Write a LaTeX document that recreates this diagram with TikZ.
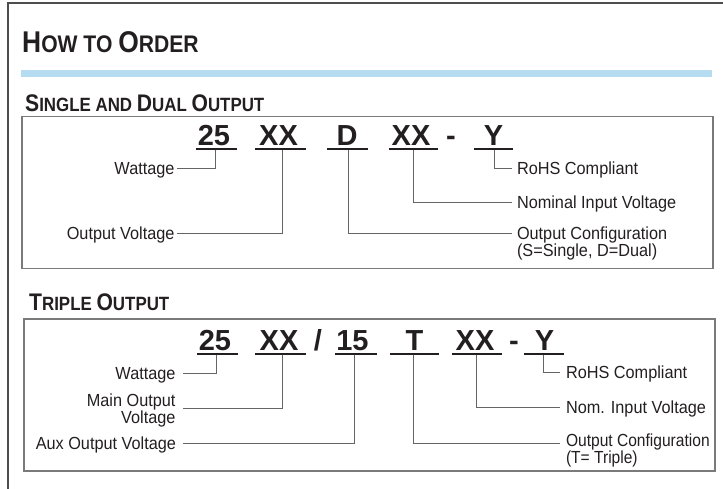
\documentclass[tikz,border=0pt]{standalone}
\usepackage{fontspec}
\setmainfont{Liberation Sans}
\newfontfamily\headfont[FakeStretch=0.88]{Liberation Sans}
\newfontfamily\labfont[FakeStretch=0.93]{Liberation Sans}
\newfontfamily\labnarrow[FakeStretch=0.89]{Liberation Sans}
\definecolor{ink}{HTML}{231F20}
\definecolor{linegray}{HTML}{646567}
\definecolor{boxgray}{HTML}{7A7A7A}
\definecolor{framegray}{HTML}{4D4D4D}
\definecolor{barblue}{HTML}{B5DCF0}
\newcommand\mainH[2]{{\fontsize{30}{30}\selectfont #1}{\fontsize{24}{30}\selectfont #2}}
\newcommand\subH[2]{{\fontsize{24}{24}\selectfont #1}{\fontsize{19.2}{24}\selectfont #2}}
\begin{document}
\begin{tikzpicture}[x=1pt,y=-1pt,
  lab/.style={font=\labfont\fontsize{17.5}{18}\selectfont, text=ink, inner sep=0pt, text height=12.5pt, text depth=0pt},
  labL/.style={lab, anchor=east, outer sep=2.5pt},
  labR/.style={lab, anchor=west, outer sep=5pt},
  labLb/.style={lab, anchor=east, outer sep=7pt},
  labRb/.style={lab, anchor=west, outer sep=6pt},
  code/.style={font=\bfseries\fontsize{29}{30}\selectfont, text=ink, inner sep=0pt, anchor=base},
  head/.style={font=\headfont\bfseries, text=ink, inner sep=0pt, anchor=base west},
  ul/.style={line width=2pt, ink},
  conn/.style={line width=0.9pt, linegray},
  boxline/.style={line width=1.2pt, boxgray}]
\useasboundingbox (0,0) rectangle (723,489);
% outer frame and bar
\draw[line width=1.6pt, framegray] (723,3) -- (8,3) -- (8,489);
\fill[barblue] (21,70) rectangle (712,77);
% headings
\node[head] (hto) at (22,53) {\mainH{H}{OW TO }\mainH{O}{RDER}};
\node[head] (hsd) at (25,111.5) {\subH{S}{INGLE AND }\subH{D}{UAL }\subH{O}{UTPUT}};
\node[head] (htr) at (29,310) {\subH{T}{RIPLE }\subH{O}{UTPUT}};
% boxes
\draw[boxline] (22,116.5) rectangle (713,268.5);
\draw[boxline] (24,319) rectangle (715,471);

% ---------- box 1 ----------
\node[code] (a25) at (214,145.5) {25};
\node[code] (aXX) at (278.5,145.5) {XX};
\node[code] (aD) at (347,145.5) {D};
\node[code] (aXXb) at (411,145.5) {XX};
\node[code] (adash) at (451,145.5) {-};
\node[code] (aY) at (493.5,145.5) {Y};
\draw[ul] (196,149.5) -- (237,149.5);
\draw[ul] (255,149.5) -- (306,149.5);
\draw[ul] (327,149.5) -- (368,149.5);
\draw[ul] (389,149.5) -- (438,149.5);
\draw[ul] (474,149.5) -- (513,149.5);
\coordinate (pa25) at (215,150.5);
\coordinate (paXX) at (282,150.5);
\coordinate (paD) at (348,150.5);
\coordinate (paXXb) at (413,150.5);
\coordinate (paY) at (494,150.5);

\node[labL] (wat1) at (177,168) {Wattage};
\node[labL] (ov1) at (177,233) {Output Voltage};
\node[labR] (rohs1) at (512,168) {RoHS Compliant};
\node[labR] (nom1) at (512,202) {Nominal Input Voltage};
\node[labR] (oc1) at (512,233) {Output Configuration};
\node[lab, anchor=base west, outer sep=5pt] (oc1b) at (512,256.5) {(S=Single, D=Dual)};

\draw[conn] (pa25) |- (wat1);
\draw[conn] (paXX) |- (ov1);
\draw[conn] (paD) |- (oc1);
\draw[conn] (paXXb) |- (nom1);
\draw[conn] (paY) |- (rohs1);

% ---------- box 2 ----------
\node[code] (b25) at (215,350.5) {25};
\node[code] (bXX) at (279,350.5) {XX};
\node[code] (bsl) at (318,350.5) {/};
\node[code] (b15) at (352.5,350.5) {15};
\node[code] (bT) at (414.5,350.5) {T};
\node[code] (bXXb) at (475,350.5) {XX};
\node[code] (bdash) at (514,350.5) {-};
\node[code] (bY) at (544.5,350.5) {Y};
\draw[ul] (197,353.5) -- (238,353.5);
\draw[ul] (255,353.5) -- (306,353.5);
\draw[ul] (335,353.5) -- (377,353.5);
\draw[ul] (390,353.5) -- (439,353.5);
\draw[ul] (452,353.5) -- (502,353.5);
\draw[ul] (524,353.5) -- (564,353.5);
\coordinate (pb25) at (216,354.5);
\coordinate (pbXX) at (282,354.5);
\coordinate (pb15) at (354,354.5);
\coordinate (pbT) at (413,354.5);
\coordinate (pbXXb) at (476,354.5);
\coordinate (pbY) at (543,354.5);

\node[labLb] (wat2) at (182.5,373) {Wattage};
\node[lab, anchor=base east, outer sep=7pt] (mo2) at (182.5,406) {Main Output};
\node[lab, anchor=base east, outer sep=7pt] (vo2) at (182.5,423.5) {Voltage};
\node[labLb] (aux2) at (183,443) {Aux Output Voltage};
\node[labRb] (rohs2) at (560,372) {RoHS Compliant};
\node[labRb] (nom2) at (560,407) {Nom. Input Voltage};
\node[lab, font=\labnarrow\fontsize{17.5}{18}\selectfont, anchor=base west, outer sep=6pt] (oc2) at (560,446.5) {Output Configuration};
\node[lab, font=\labnarrow\fontsize{17.5}{18}\selectfont, anchor=base west, outer sep=6pt] (oc2b) at (560,463) {(T= Triple)};

\draw[conn] (pb25) |- (wat2);
\draw[conn] (pbXX) |- ([yshift=-2pt]mo2.base east);
\draw[conn] (pb15) |- (aux2);
\draw[conn] (pbT) |- ([yshift=3.5pt]oc2.base west);
\draw[conn] (pbXXb) |- (nom2);
\draw[conn] (pbY) |- (rohs2);
\end{tikzpicture}
\end{document}
